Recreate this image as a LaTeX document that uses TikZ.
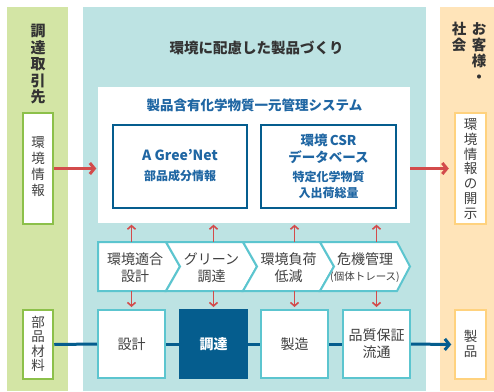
\documentclass[tikz,border=0pt]{standalone}
\usepackage{fontspec}
\setmainfont{Noto Sans CJK JP}
\usetikzlibrary{arrows.meta}
\definecolor{greenbg}{HTML}{D3E5A5}
\definecolor{greenln}{HTML}{8CC04A}
\definecolor{tealbg}{HTML}{BDE3E3}
\definecolor{orangebg}{HTML}{FFE4B9}
\definecolor{orangeln}{HTML}{FFD27E}
\definecolor{navy}{HTML}{055D8E}
\definecolor{cyanln}{HTML}{5CC5CF}
\definecolor{redar}{HTML}{D34B4B}
\definecolor{txt}{HTML}{404040}
\definecolor{bluetxt}{HTML}{1F66A3}
\tikzset{
  vtext/.style={align=center, text=txt, inner sep=0pt, font=\fontsize{13.5}{15.5}\selectfont},
  gbox/.style={draw=greenln, line width=2.5pt, fill=white, inner sep=0pt},
  obox/.style={draw=orangeln, line width=2.5pt, fill=white, inner sep=0pt},
  dbbox/.style={draw=navy, line width=2pt, minimum width=134pt, minimum height=83pt, inner sep=0pt},
  procbox/.style={draw=cyanln, line width=2pt, fill=white, minimum width=67pt, minimum height=68pt, inner sep=0pt, align=center, text=txt, font=\fontsize{14}{17}\selectfont},
  chev/.style={draw=cyanln, line width=2pt, fill=white, line join=miter},
  chtext/.style={align=center, text=txt, inner sep=0pt, font=\fontsize{14}{17}\selectfont},
  redarrow/.style={draw=redar, line width=1.6pt, -{Straight Barb[length=3.5pt,width=8pt]}},
  bigred/.style={draw=redar, line width=3pt, -{Straight Barb[length=4.5pt,width=11pt]}},
  navyline/.style={draw=navy, line width=3pt},
  bluebold/.style={text=bluetxt, inner sep=0pt, font=\bfseries\fontsize{13.5}{16}\selectfont},
  bluesmall/.style={text=bluetxt, inner sep=0pt, font=\bfseries\fontsize{12}{14}\selectfont},
}
\begin{document}
\begin{tikzpicture}[x=1pt,y=-1pt]
\path[use as bounding box, fill=white] (0,0) rectangle (494,391);
\fill[greenbg] (7,7) rectangle (68,391);
\fill[tealbg] (83,7) rectangle (426,391);
\fill[orangebg] (440,7) rectangle (494,391);

% column headings
\node[vtext, font=\bfseries\fontsize{15}{16.5}\selectfont, text=black!80, anchor=north] (lhead) at (38,24) {調\\達\\取\\引\\先};
\node[vtext, font=\bfseries\fontsize{14.5}{16}\selectfont, text=black!80, anchor=north] (rhead1) at (479,22) {お\\客\\様\\・};
\node[vtext, font=\bfseries\fontsize{14.5}{16}\selectfont, text=black!80, anchor=north] (rhead2) at (459,22) {社\\会};

% main title
\node[text=black!80, inner sep=0pt, font=\bfseries\fontsize{14.5}{17}\selectfont] (title) at (256.5,48) {環境に配慮した製品づくり};

% system box
\node[fill=white, minimum width=312pt, minimum height=136pt, inner sep=0pt] (sys) at (254,155) {};
\node[bluebold] (systitle) at (254.5,105) {製品含有化学物質一元管理システム};
\node[dbbox] (db1) at (180,166.5) {};
\node[dbbox, minimum width=135pt] (db2) at (328.5,166.5) {};
\node[bluebold, font=\bfseries\fontsize{14}{16}\selectfont] (gn) at (180,155) {A Gree’Net};
\node[bluesmall] (gn2) at (180,176) {部品成分情報};
\node[bluebold] (csr1) at (328.5,140) {環境\,CSR};
\node[bluebold] (csr2) at (328.5,157) {データベース};
\node[bluesmall] (csr3) at (328.5,177) {特定化学物質};
\node[bluesmall] (csr4) at (328.5,193) {入出荷総量};

% side boxes
\node[gbox, minimum width=30pt, minimum height=111pt] (envL) at (38,168.5) {};
\node[vtext, font=\fontsize{13.5}{16}\selectfont] (envLt) at (38,167) {環\\境\\情\\報};
\node[gbox, minimum width=30pt, minimum height=69pt] (partsL) at (38,344.5) {};
\node[vtext, font=\fontsize{13.5}{14.5}\selectfont] (partsLt) at (38,344) {部\\品\\材\\料};
\node[obox, minimum width=31pt, minimum height=111pt] (envR) at (470.5,168.5) {};
\node[vtext, font=\fontsize{13.5}{14.7}\selectfont] (envRt) at (470.5,169) {環\\境\\情\\報\\の\\開\\示};
\node[obox, minimum width=31pt, minimum height=69pt] (prodR) at (470.5,344.5) {};
\node[vtext, font=\fontsize{13.5}{15}\selectfont] (prodRt) at (470.5,344) {製\\品};

% chevrons
\coordinate (chtop) at (0,242);
\coordinate (chbot) at (0,291);
\path[chev] (98,242) -- (166,242) -- (180,266.5) -- (166,291) -- (98,291) -- cycle;
\path[chev] (166,242) -- (243,242) -- (257,266.5) -- (243,291) -- (166,291) -- (180,266.5) -- cycle;
\path[chev] (243,242) -- (320,242) -- (334,266.5) -- (320,291) -- (243,291) -- (257,266.5) -- cycle;
\path[chev] (320,242) -- (397,242) -- (410,266.5) -- (397,291) -- (320,291) -- (334,266.5) -- cycle;
\node[chtext] (ch1) at (135,267.5) {環境適合\\設計};
\node[chtext] (ch2) at (211.5,267.5) {グリーン\\調達};
\node[chtext] (ch3) at (288.5,267.5) {環境負荷\\低減};
\node[chtext] (ch4) at (365,268) {危機管理\\[-1pt]{\fontsize{10.5}{12}\selectfont (個体トレース)}};

% process boxes
\node[procbox] (b1) at (131.5,344) {設計};
\node[procbox, draw=navy, fill=navy, text=white, font=\bfseries\fontsize{14}{17}\selectfont] (b2) at (213.5,344) {調達};
\node[procbox] (b3) at (294.5,344) {製造};
\node[procbox] (b4) at (376.5,344) {品質保証\\流通};

% red vertical arrows
\foreach \b in {b1,b2,b3,b4}{
  \draw[redarrow] (\b |- chtop) -- ([yshift=-1.5pt]\b |- sys.south);
  \draw[redarrow] (\b |- chbot) -- ([yshift=2pt]\b.north);
}

% red horizontal arrows
\draw[bigred] (envL.east) -- ([xshift=-1.5pt]sys.west |- envL.east);
\draw[bigred] (sys.east |- envR.west) -- ([xshift=-5pt]envR.west);

% navy process line
\draw[navyline] (partsL.east) -- (b1.west);
\draw[navyline] (b1.east) -- (b2.west);
\draw[navyline] (b2.east) -- (b3.west);
\draw[navyline] (b3.east) -- (b4.west);
\draw[navyline, -{Straight Barb[length=4.5pt,width=11pt]}] (b4.east) -- ([xshift=-2.5pt]prodR.west);
\end{tikzpicture}
\end{document}
